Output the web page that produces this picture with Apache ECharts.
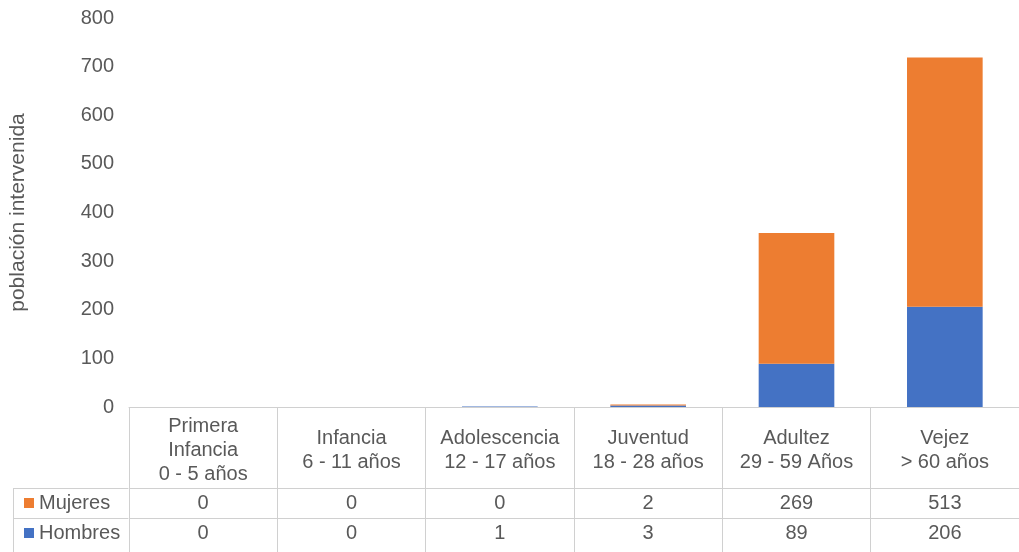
<!DOCTYPE html>
<html>
<head>
<meta charset="utf-8">
<script src="https://cdn.jsdelivr.net/npm/echarts@6/dist/echarts.min.js"></script>
<style>
  html, body { margin: 0; padding: 0; background: #ffffff; }
  #chart { width: 1019px; height: 552px; }
</style>
</head>
<body>
<div id="chart"></div>
<script>
// Age groups (column headers of the data table)
const categories = [
  'Primera\nInfancia\n0 - 5 años',
  'Infancia\n6 - 11 años',
  'Adolescencia\n12 - 17 años',
  'Juventud\n18 - 28 años',
  'Adultez\n29 - 59 Años',
  'Vejez\n> 60 años'
];
const mujeres = [0, 0, 0, 2, 269, 513];
const hombres = [0, 0, 1, 3, 89, 206];
const seriesNames = ['Mujeres', 'Hombres'];
const yTicks = { min: 0, max: 800, interval: 100 };
const yTitle = 'población intervenida';

// Layout constants
const FONT = 'Liberation Sans, Arial, sans-serif';
const TEXT = '#595959';
const BORDER = '#d0d0d0';
const GRID_LEFT = 128, GRID_TOP = 18, GRID_W = 900, GRID_H = 389;
const AXIS_Y = GRID_TOP + GRID_H;      // baseline of the bars
const HEADER_H = 81;                    // header row of the table
const ROW_H = 30;                       // each data row
const TABLE_LEFT = 13;
const TABLE_BOTTOM = AXIS_Y + HEADER_H + ROW_H * 2 + 4;

const chart = echarts.init(document.getElementById('chart'), null, { renderer: 'canvas' });

function rowAxis(values, offset) {
  return {
    type: 'category',
    position: 'bottom',
    offset: offset,
    data: categories,
    axisLine: { show: true, lineStyle: { color: BORDER, width: 1 } },
    axisTick: { show: false },
    axisLabel: {
      interval: 0,
      margin: ROW_H / 2,
      verticalAlign: 'middle',
      color: TEXT,
      fontFamily: FONT,
      fontSize: 20,
      formatter: (v, i) => String(values[i])
    }
  };
}

// One legend per table row, so each key sits in its own row
function rowLegend(name, rowIndex) {
  return {
    show: true,
    orient: 'horizontal',
    left: 24,
    top: AXIS_Y + HEADER_H + rowIndex * ROW_H + 5,
    itemWidth: 10,
    itemHeight: 10,
    icon: 'rect',
    padding: 0,
    data: [name],
    textStyle: { color: TEXT, fontFamily: FONT, fontSize: 20, lineHeight: 20 }
  };
}

const option = {
  backgroundColor: '#ffffff',
  animation: false,
  grid: { left: GRID_LEFT, top: GRID_TOP, width: GRID_W, height: GRID_H, containLabel: false },
  legend: seriesNames.map((n, i) => rowLegend(n, i)),
  xAxis: [
    {
      type: 'category',
      position: 'bottom',
      data: categories,
      axisLine: { show: true, lineStyle: { color: BORDER, width: 1 } },
      axisTick: {
        show: true, interval: 0, alignWithLabel: false,
        length: TABLE_BOTTOM - AXIS_Y,
        lineStyle: { color: BORDER, width: 1 }
      },
      axisLabel: {
        interval: 0,
        margin: HEADER_H / 2 + 3,
        verticalAlign: 'middle',
        align: 'center',
        color: TEXT,
        fontFamily: FONT,
        fontSize: 20,
        lineHeight: 24
      }
    },
    rowAxis(mujeres, HEADER_H),
    rowAxis(hombres, HEADER_H + ROW_H)
  ],
  yAxis: {
    type: 'value',
    min: yTicks.min,
    max: yTicks.max,
    interval: yTicks.interval,
    splitLine: { show: false },
    axisLine: { show: false },
    axisTick: { show: false },
    axisLabel: { color: TEXT, fontFamily: FONT, fontSize: 20, margin: 15 },
    name: yTitle,
    nameLocation: 'middle',
    nameRotate: 90,
    nameGap: 100,
    nameTextStyle: { color: TEXT, fontFamily: FONT, fontSize: 21 }
  },
  series: [
    {
      name: 'Hombres', type: 'bar', stack: 'total', data: hombres,
      xAxisIndex: 0, barWidth: '51%',
      itemStyle: { color: '#4472C4' }
    },
    {
      name: 'Mujeres', type: 'bar', stack: 'total', data: mujeres,
      xAxisIndex: 0, barWidth: '51%',
      itemStyle: { color: '#ED7D31' }
    }
  ],
  // Borders of the legend column at the left of the data table
  graphic: [
    { type: 'line', silent: true, shape: { x1: TABLE_LEFT, y1: AXIS_Y + HEADER_H + 0.5, x2: GRID_LEFT, y2: AXIS_Y + HEADER_H + 0.5 }, style: { stroke: BORDER, lineWidth: 1 } },
    { type: 'line', silent: true, shape: { x1: TABLE_LEFT, y1: AXIS_Y + HEADER_H + ROW_H + 0.5, x2: GRID_LEFT, y2: AXIS_Y + HEADER_H + ROW_H + 0.5 }, style: { stroke: BORDER, lineWidth: 1 } },
    { type: 'line', silent: true, shape: { x1: TABLE_LEFT + 0.5, y1: AXIS_Y + HEADER_H, x2: TABLE_LEFT + 0.5, y2: TABLE_BOTTOM }, style: { stroke: BORDER, lineWidth: 1 } }
  ]
};

chart.setOption(option);
</script>
</body>
</html>
